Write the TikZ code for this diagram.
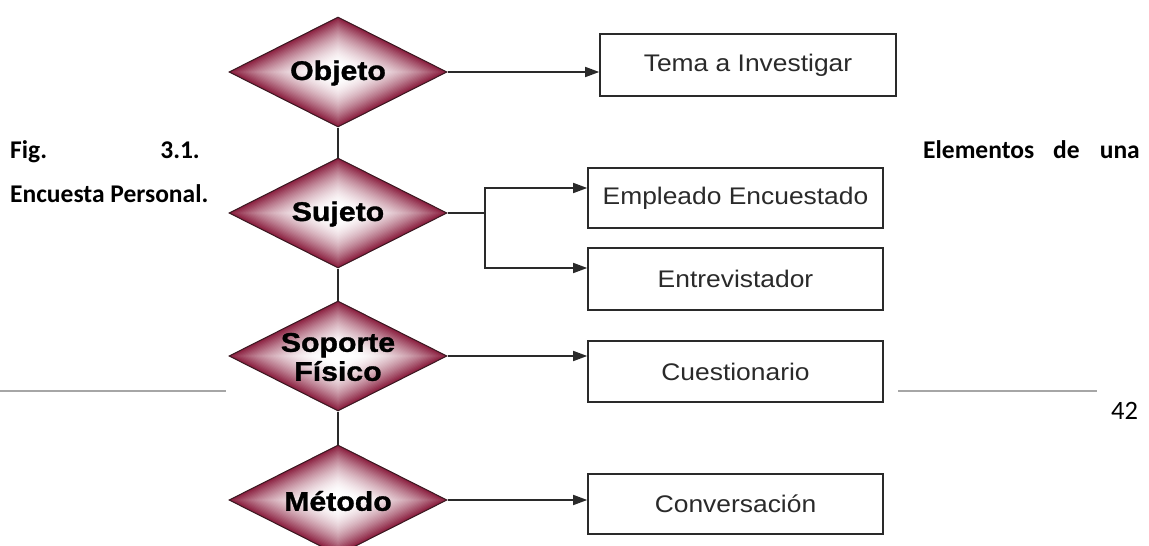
\documentclass[tikz,border=0pt]{standalone}
\usepackage{fontspec}
\setmainfont{Liberation Sans}
\newfontfamily\capfont{Carlito}
\newfontfamily\dfont[FakeStretch=1.12,FakeBold=1.2]{Liberation Sans}
\newfontfamily\bfont[FakeStretch=1.1]{Liberation Sans}
\usetikzlibrary{shapes.geometric,arrows.meta,calc}
\definecolor{maroon}{HTML}{8A1E3E}
\definecolor{dedge}{HTML}{3A1A22}
\definecolor{ln}{HTML}{2A2A2A}
\definecolor{rulegray}{HTML}{A6A6A6}
\newcommand{\gradDiamond}[2]{%
  \foreach \i in {0,...,39}{%
    \pgfmathsetmacro\f{1-\i/40}%
    \pgfmathsetmacro\t{min(1,max(0,(\f-0.12)/0.88))}%
    \pgfmathsetmacro\p{100*\t*\t^0.8}%
    \fill[maroon!\p!white] (#1-109*\f,#2) -- (#1,#2-55*\f) -- (#1+109*\f,#2) -- (#1,#2+55*\f) -- cycle;
  }}
\tikzset{
  dshape/.style={diamond, draw=dedge, line width=1pt, minimum width=218pt, minimum height=110pt, inner sep=0pt},
  dtext/.style={font=\dfont\bfseries\fontsize{27}{29}\selectfont, align=center, text=black},
  boxnode/.style={draw=ln, line width=1.6pt, fill=white, inner sep=0pt, font=\bfont\fontsize{24}{28}\selectfont, text=ln},
  conn/.style={draw=ln, line width=1.6pt},
  arr/.style={conn, -{Triangle[length=14pt,width=10pt]}},
  captext/.style={font=\capfont\bfseries\fontsize{25.5}{28}\selectfont, inner sep=0pt},
}
\begin{document}
\begin{tikzpicture}[x=1pt,y=-1pt]
\useasboundingbox (0,0) rectangle (1149,546);
\clip (0,0) rectangle (1149,546);
\fill[white] (0,0) rectangle (1149,546);

% footer rules and page number
\draw[rulegray, line width=2pt] (0,391) -- (226,391);
\draw[rulegray, line width=2pt] (898,391) -- (1097,391);
\node[font=\capfont\fontsize{26.5}{30}\selectfont, inner sep=0pt, anchor=base west] (pnum) at (1111,419) {42};

% caption
\node[captext, anchor=base west] (fig) at (10,158) {Fig.};
\node[captext, anchor=base east] (num) at (200,158) {3.1.};
\node[captext, anchor=base west] (el) at (923,158) {Elementos};
\node[captext, anchor=base west] (de) at (1053,158) {de};
\node[captext, anchor=base east] (una) at (1140,158) {una};
\node[captext, anchor=base west] (enc) at (10,202) {Encuesta Personal.};

% diamonds
\gradDiamond{338}{72}
\gradDiamond{338}{213}
\gradDiamond{338}{356}
\gradDiamond{338}{500}
\node[dshape] (obj) at (338,72) {};
\node[dshape] (suj) at (338,213) {};
\node[dshape] (sop) at (338,356) {};
\node[dshape] (met) at (338,500) {};
\node[dtext] (tobj) at ([yshift=-1pt]obj.center) {Objeto};
\node[dtext] (tsuj) at ([yshift=-1pt]suj.center) {Sujeto};
\node[dtext] (tsop) at ([yshift=-1pt]sop.center) {Soporte\\Físico};
\node[dtext] (tmet) at ([yshift=-1pt]met.center) {Método};

% boxes
\node[boxnode, minimum width=296pt, minimum height=62pt] (tema) at (748,65) {Tema a Investigar};
\node[boxnode, minimum width=295pt, minimum height=60pt] (emp) at (735.5,198) {Empleado Encuestado};
\node[boxnode, minimum width=295pt, minimum height=62pt] (ent) at (735.5,279) {Entrevistador};
\node[boxnode, minimum width=295pt, minimum height=61pt] (cue) at (735.5,371.5) {Cuestionario};
\node[boxnode, minimum width=295pt, minimum height=60pt] (con) at (735.5,504) {Conversación};

% vertical links
\draw[conn] (obj.south) -- (suj.north);
\draw[conn] (suj.south) -- (sop.north);
\draw[conn] (sop.south) -- (met.north);

% arrows
\draw[arr] (obj.east) -- (obj.east -| tema.west);
\coordinate (br) at (485,213);
\draw[conn] (suj.east) -- (br);
\draw[arr] (br) |- ($(emp.west)+(0,-10)$);
\draw[arr] (br) |- ($(ent.west)+(0,-11)$);
\draw[arr] (sop.east) -- (sop.east -| cue.west);
\draw[arr] (met.east) -- (met.east -| con.west);
\end{tikzpicture}
\end{document}
